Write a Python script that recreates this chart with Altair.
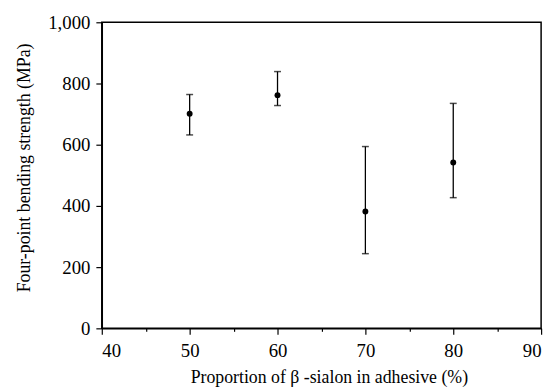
import altair as alt
import pandas as pd

proportion = [50, 60, 70, 80]
strength = [701, 762, 382, 542]
upper = [764, 839, 594, 735]
lower = [632, 728, 244, 427]

df = pd.DataFrame({"p": proportion, "s": strength, "hi": upper, "lo": lower})

FONT = "Liberation Serif"

xscale = alt.Scale(domain=[40, 90], nice=False, zero=False)
yscale = alt.Scale(domain=[0, 1000], nice=False)

xaxis = alt.Axis(
    values=[40, 45, 50, 55, 60, 65, 70, 75, 80, 85, 90],
    labelExpr="datum.value % 10 == 0 ? datum.label : ''",
    tickSize={"condition": {"test": "datum.value % 10 != 0", "value": 3}, "value": 6},
    labelOverlap=False,
    labelPadding=8,
    grid=False,
    title="Proportion of  β -sialon in adhesive (%)",
    titleFontSize=18,
    titleY=50,
    titleX=230,
    titleBaseline="middle",
)
yaxis = alt.Axis(
    values=[0, 100, 200, 300, 400, 500, 600, 700, 800, 900, 1000],
    labelExpr="datum.value % 200 == 0 ? format(datum.value, ',') : ''",
    tickSize={"condition": {"test": "datum.value % 200 != 0", "value": 3}, "value": 6},
    labelOverlap=False,
    labelPadding=6,
    grid=False,
    title="Four-point bending strength (MPa)",
    titleFontSize=18,
    titleX=-78,
    titleY=147,
    titleAngle=-90,
    titleAlign="center",
    titleBaseline="middle",
)

base = alt.Chart(df)

bars = base.mark_rule(color="black", strokeWidth=1.3).encode(
    x=alt.X("p:Q", scale=xscale, axis=xaxis),
    y=alt.Y("lo:Q", scale=yscale, axis=yaxis),
    y2="hi:Q",
)
cap_hi = base.mark_tick(color="black", orient="horizontal", size=7, thickness=1.5).encode(
    x=alt.X("p:Q", scale=xscale), y=alt.Y("hi:Q", scale=yscale)
)
cap_lo = base.mark_tick(color="black", orient="horizontal", size=7, thickness=1.5).encode(
    x=alt.X("p:Q", scale=xscale), y=alt.Y("lo:Q", scale=yscale)
)
pts = base.mark_point(filled=True, color="black", size=36, opacity=1).encode(
    x=alt.X("p:Q", scale=xscale), y=alt.Y("s:Q", scale=yscale)
)

chart = (
    alt.layer(bars, cap_hi, cap_lo, pts)
    .properties(
        width=445,
        height=310,
        autosize="none",
        padding={"left": 95, "top": 12, "right": 9, "bottom": 62},
    )
    .configure_view(stroke="black", strokeWidth=1.5)
    .configure_axis(
        domainColor="black",
        domainWidth=1.5,
        tickColor="black",
        tickWidth=1.2,
        labelFont=FONT,
        labelFontSize=19,
        labelColor="black",
        titleFont=FONT,
        titleFontWeight="normal",
        titleColor="black",
    )
)

chart.save("out.html", embed_options={"renderer": "svg", "actions": False})
